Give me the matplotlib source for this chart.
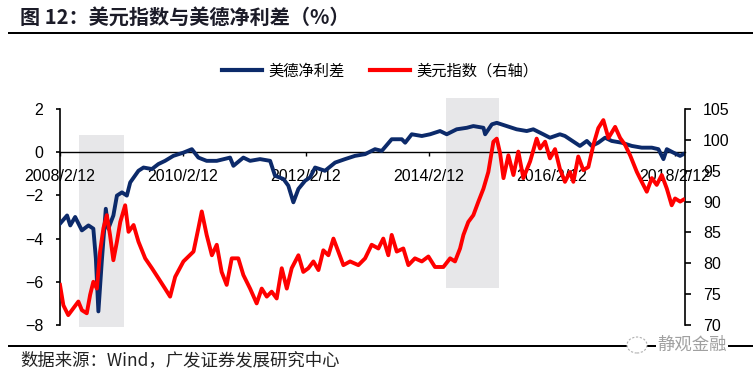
import numpy as np
import pandas as pd
import matplotlib
matplotlib.use('Agg')
import matplotlib.pyplot as plt
from matplotlib.lines import Line2D
from matplotlib.patches import Ellipse

plt.rcParams['font.family'] = ['Liberation Sans', 'Noto Sans CJK SC', 'DejaVu Sans']
cjk = ['Noto Sans CJK SC', 'DejaVu Sans']

# 美德净利差 (left axis, %)
spread_dates = ['2008-02-12', '2008-03-25', '2008-04-13', '2008-05-12', '2008-06-21',
                '2008-07-30', '2008-08-28', '2008-09-12', '2008-09-27', '2008-10-17',
                '2008-11-10', '2008-11-25', '2008-12-25', '2009-01-15', '2009-02-14',
                '2009-03-15', '2009-04-04', '2009-05-23', '2009-06-22', '2009-08-11',
                '2009-09-18', '2009-10-28', '2009-12-16', '2010-02-14', '2010-04-05',
                '2010-05-14', '2010-07-02', '2010-08-31', '2010-11-18', '2010-12-08',
                '2011-02-05', '2011-03-17', '2011-05-15', '2011-07-14', '2011-08-12',
                '2011-10-01', '2011-10-30', '2011-11-29', '2011-12-29', '2012-02-07',
                '2012-03-07', '2012-04-06', '2012-06-04', '2012-08-03', '2012-10-01',
                '2012-11-29', '2013-01-28', '2013-03-28', '2013-05-07', '2013-07-05',
                '2013-09-03', '2013-09-23', '2013-11-01', '2013-12-31', '2014-02-18',
                '2014-04-18', '2014-05-28', '2014-07-26', '2014-09-24', '2014-11-02',
                '2015-01-01', '2015-01-11', '2015-02-20', '2015-03-21', '2015-05-19',
                '2015-07-17', '2015-09-15', '2015-10-24', '2015-12-22', '2016-01-31',
                '2016-03-30', '2016-04-29', '2016-06-28', '2016-07-27', '2016-09-06',
                '2016-10-05', '2016-11-13', '2016-12-23', '2017-02-01', '2017-04-01',
                '2017-05-31', '2017-07-29', '2017-09-27', '2017-11-05', '2017-12-05',
                '2017-12-25', '2018-02-02', '2018-03-14', '2018-04-02']
spread = [-3.31, -2.93, -3.39, -3.00, -3.62,
          -3.39, -3.54, -4.92, -7.37, -5.07,
          -2.62, -3.54, -2.93, -2.01, -1.86,
          -2.01, -1.40, -0.86, -0.71, -0.78,
          -0.55, -0.40, -0.17, -0.02, 0.14,
          -0.25, -0.40, -0.40, -0.25, -0.63,
          -0.25, -0.40, -0.32, -0.40, -1.09,
          -1.24, -1.55, -2.32, -1.70, -1.32,
          -1.17, -0.71, -0.86, -0.48, -0.32,
          -0.17, -0.09, 0.14, 0.06, 0.60,
          0.60, 0.44, 0.83, 0.75, 0.83,
          0.98, 0.83, 1.06, 1.13, 1.21,
          1.13, 0.83, 1.29, 1.36, 1.21,
          1.06, 0.98, 1.06, 0.83, 0.67,
          0.83, 0.75, 0.44, 0.29, 0.52,
          0.29, 0.44, 0.67, 0.52, 0.44,
          0.29, 0.21, 0.21, 0.14, -0.32,
          0.14, -0.02, -0.17, -0.09]

# 美元指数 (right axis)
dxy_dates = ['2008-02-12', '2008-03-03', '2008-04-01', '2008-05-01', '2008-05-31',
             '2008-06-21', '2008-07-20', '2008-08-09', '2008-08-28', '2008-09-18',
             '2008-10-07', '2008-10-27', '2008-11-16', '2008-12-05', '2008-12-25',
             '2009-01-15', '2009-02-04', '2009-03-05', '2009-03-25', '2009-04-24',
             '2009-05-23', '2009-07-02', '2009-08-11', '2009-09-18', '2009-10-28',
             '2009-11-27', '2009-12-27', '2010-02-14', '2010-04-15', '2010-05-14',
             '2010-06-03', '2010-07-02', '2010-08-02', '2010-08-31', '2010-09-29',
             '2010-10-29', '2010-11-28', '2011-01-06', '2011-02-05', '2011-03-17',
             '2011-04-25', '2011-05-25', '2011-06-24', '2011-07-23', '2011-08-22',
             '2011-09-21', '2011-10-21', '2011-11-19', '2011-12-29', '2012-01-27',
             '2012-02-26', '2012-03-27', '2012-04-26', '2012-05-25', '2012-06-24',
             '2012-07-24', '2012-08-22', '2012-09-21', '2012-10-31', '2012-12-19',
             '2013-01-28', '2013-03-08', '2013-04-17', '2013-05-16', '2013-06-15',
             '2013-07-05', '2013-08-04', '2013-09-12', '2013-10-12', '2013-11-20',
             '2013-12-31', '2014-02-08', '2014-03-19', '2014-05-08', '2014-06-17',
             '2014-07-16', '2014-08-15', '2014-09-04', '2014-10-03', '2014-11-02',
             '2014-12-02', '2015-01-01', '2015-01-30', '2015-03-01', '2015-03-21',
             '2015-04-10', '2015-04-30', '2015-05-29', '2015-06-28', '2015-07-27',
             '2015-08-26', '2015-10-05', '2015-11-13', '2015-12-03', '2016-01-02',
             '2016-01-31', '2016-03-01', '2016-03-30', '2016-04-29', '2016-05-29',
             '2016-06-18', '2016-07-17', '2016-08-16', '2016-09-15', '2016-10-15',
             '2016-11-13', '2016-12-13', '2017-01-12', '2017-02-21', '2017-03-23',
             '2017-04-21', '2017-05-21', '2017-06-30', '2017-07-29', '2017-08-28',
             '2017-09-27', '2017-10-26', '2017-11-25', '2017-12-25', '2018-01-23',
             '2018-02-12', '2018-03-14', '2018-04-02']
dxy = [76.5, 73.2, 71.6, 72.7, 73.8,
       72.4, 71.9, 74.9, 77.0, 75.9,
       81.9, 85.7, 87.8, 84.6, 80.5,
       83.5, 86.7, 89.4, 85.1, 86.2,
       83.5, 80.8, 79.2, 77.6, 75.9,
       74.6, 77.8, 80.3, 81.9, 85.7,
       88.4, 84.6, 81.3, 83.0, 78.6,
       76.5, 80.8, 80.8, 78.1, 75.9,
       73.5, 75.9, 74.6, 75.4, 74.3,
       79.2, 75.9, 79.2, 81.3, 78.6,
       79.2, 80.3, 78.9, 82.1, 81.3,
       84.0, 81.9, 79.7, 80.3, 79.7,
       80.8, 83.0, 82.4, 84.0, 81.3,
       84.6, 81.9, 82.4, 79.7, 80.8,
       80.3, 81.1, 79.4, 79.4, 80.8,
       80.3, 82.4, 84.6, 86.7, 87.8,
       90.0, 92.1, 94.8, 99.7, 100.2,
       97.8, 93.8, 97.5, 94.3, 98.1,
       93.8, 96.5, 100.2, 98.6, 99.7,
       97.0, 98.5, 95.3, 93.2, 94.8,
       93.2, 97.3, 95.1, 95.6, 99.2,
       101.9, 103.2, 100.3, 102.1, 100.3,
       99.2, 97.5, 94.8, 93.2, 91.6,
       93.8, 92.7, 94.3, 92.1, 89.4,
       90.5, 90.0, 90.3]

# shaded periods
shade_start = ['2008-06-05', '2014-05-24']
shade_end = ['2009-02-27', '2015-04-04']
shade_low = [-8.1, -6.3]
shade_high = [0.8, 2.5]

tick_dates = ['2008-02-12', '2010-02-12', '2012-02-12', '2014-02-12', '2016-02-12', '2018-02-12']
tick_labels = ['2008/2/12', '2010/2/12', '2012/2/12', '2014/2/12', '2016/2/12', '2018/2/12']

navy = '#0c2a6a'
red = '#ff0000'

fig = plt.figure(figsize=(7.53, 3.77), dpi=100)
ax = fig.add_axes([60/753, 1-325/377, 625/753, 216/377])
ax2 = ax.twinx()

for s, e, lo, hi in zip(shade_start, shade_end, shade_low, shade_high):
    ax.fill_between(pd.to_datetime([s, e]), lo, hi, color='#e7e7e9', lw=0,
                    zorder=0, clip_on=False)

ax.plot(pd.to_datetime(spread_dates), spread, color=navy, lw=2.8, zorder=3,
        solid_joinstyle='round')
ax2.plot(pd.to_datetime(dxy_dates), dxy, color=red, lw=2.8, zorder=3,
         solid_joinstyle='round')

ax.set_xlim(pd.Timestamp('2008-02-12'), pd.Timestamp('2018-04-12'))
ax.set_ylim(-8, 2)
ax.set_yticks([2, 0, -2, -4, -6, -8])
ax2.set_ylim(70, 105)
ax2.set_yticks(np.arange(70, 106, 5))

ax.set_xticks(pd.to_datetime(tick_dates))
ax.set_xticklabels(tick_labels)

ax.spines['bottom'].set_position(('data', 0))
ax.spines['top'].set_visible(False)
ax.spines['right'].set_visible(False)
for sp in ['top', 'bottom', 'left']:
    ax2.spines[sp].set_visible(False)
ax.spines['left'].set_linewidth(1.2)
ax.spines['bottom'].set_linewidth(1.0)
ax2.spines['right'].set_linewidth(1.2)

ax.tick_params(axis='y', direction='out', length=3, width=1.2, pad=9, labelsize=11.5)
ax.tick_params(axis='x', direction='out', length=3, width=1.0, pad=9, labelsize=11.5)
ax2.tick_params(axis='y', direction='out', length=4, width=1.2, pad=9, labelsize=11.5)
ax.patch.set_visible(False)

# title and frame rules (thin strip axes so they always render)
fig.text(20/753, 1-17/377, '图 12：美元指数与美德净利差（%）', family=cjk,
         fontsize=14.5, fontweight='bold', color='#1c1c28', va='center', ha='left')
for ytop in [31.5, 344.5]:
    rule = fig.add_axes([8/753, 1-(ytop+2)/377, 745/753, 2/377])
    rule.set_facecolor('black')
    rule.set_xticks([])
    rule.set_yticks([])
    for sp in rule.spines.values():
        sp.set_visible(False)

handles = [Line2D([], [], color=navy, lw=3), Line2D([], [], color=red, lw=3)]
fig.legend(handles, ['美德净利差', '美元指数（右轴）'], loc='center',
           bbox_to_anchor=(0.505, 1-71/377), ncol=2, frameon=False,
           prop={'family': cjk, 'size': 11}, handlelength=2.6,
           handletextpad=0.4, columnspacing=1.7)

fig.text(20/753, 1-360/377, '数据来源：Wind，广发证券发展研究中心', family=cjk,
         fontsize=12.5, color='#222222', va='center', ha='left')

# watermark sitting on the footer rule
fig.text(692/753, 1-345/377, '静观金融', family=cjk, fontsize=12.5,
         color='#a0a0a0', va='center', ha='center', zorder=7,
         bbox=dict(facecolor='white', edgecolor='none', pad=1))
fig.add_artist(Ellipse((637/753, 1-345/377), 20/753, 16/377, facecolor='white',
                       edgecolor='#b0b0b0', lw=0.8, ls=(0, (2, 1.5)), zorder=7,
                       transform=fig.transFigure))

fig.savefig('out.png', dpi=100)
